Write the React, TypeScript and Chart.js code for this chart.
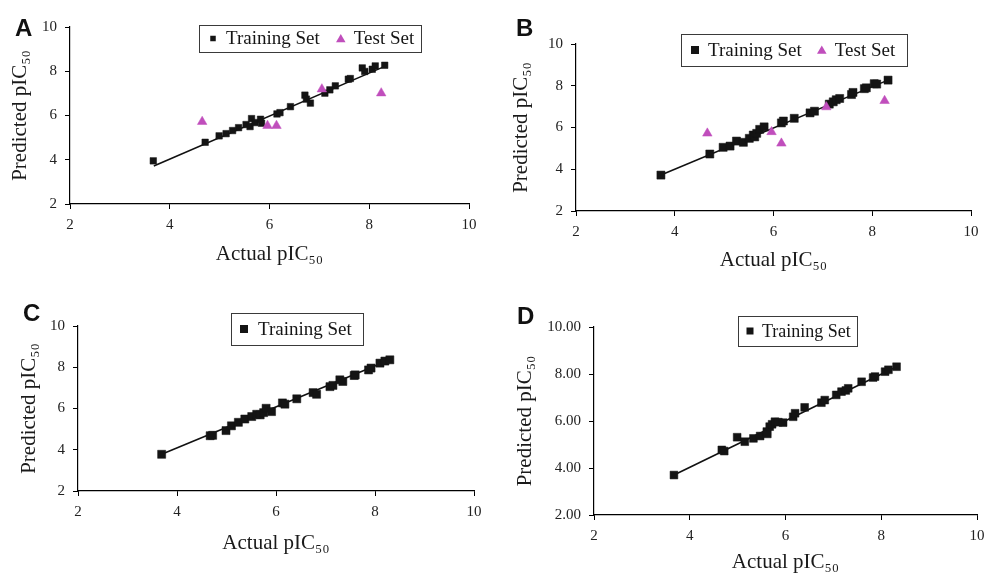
import React, { useEffect, useRef } from "react";
import { Chart, registerables } from "chart.js";

Chart.register(...registerables);

// ---------- DATA ----------
const axisTicks = [2, 4, 6, 8, 10];
const panelLetters = ["A", "B", "C", "D"];
const trainLabel = "Training Set";
const testLabel = "Test Set";
const xTitle = "Actual pIC₅₀";
const yTitle = "Predicted pIC₅₀";

// Panel A
const trainAx = [3.67, 4.71, 4.99, 5.13, 5.26, 5.38, 5.53, 5.61, 5.64, 5.71, 5.82, 5.84, 6.15, 6.21, 6.42, 6.71, 6.74, 6.82, 7.11, 7.21, 7.32, 7.58, 7.62, 7.86, 7.91, 8.06, 8.12, 8.31];
const trainAy = [3.95, 4.79, 5.08, 5.18, 5.32, 5.45, 5.59, 5.5, 5.86, 5.68, 5.83, 5.65, 6.07, 6.13, 6.4, 6.92, 6.74, 6.56, 7.01, 7.16, 7.34, 7.64, 7.67, 8.15, 7.99, 8.09, 8.24, 8.27];
const testAx = [4.65, 5.96, 6.14, 7.05, 8.24];
const testAy = [5.72, 5.54, 5.54, 7.19, 7.01];
const lineAx = [3.68, 8.31];
const lineAy = [3.72, 8.22];

// Panel B
const trainBx = [3.72, 4.71, 4.98, 5.12, 5.25, 5.39, 5.51, 5.59, 5.62, 5.66, 5.72, 5.81, 6.16, 6.2, 6.42, 6.74, 6.83, 7.13, 7.21, 7.27, 7.34, 7.58, 7.61, 7.84, 7.88, 8.04, 8.09, 8.32];
const trainBy = [3.72, 4.73, 5.05, 5.11, 5.35, 5.29, 5.48, 5.64, 5.55, 5.72, 5.91, 6.03, 6.22, 6.31, 6.44, 6.7, 6.78, 7.12, 7.23, 7.33, 7.39, 7.58, 7.68, 7.86, 7.9, 8.1, 8.08, 8.27];
const testBx = [4.66, 5.96, 6.16, 7.07, 8.25];
const testBy = [5.72, 5.79, 5.24, 6.98, 7.28];
const lineBx = [3.72, 8.32];
const lineBy = [3.72, 8.27];

// Panel C
const trainCx = [3.69, 4.67, 4.72, 4.99, 5.1, 5.24, 5.37, 5.51, 5.61, 5.68, 5.75, 5.8, 5.91, 6.13, 6.18, 6.42, 6.75, 6.82, 7.09, 7.15, 7.29, 7.35, 7.58, 7.6, 7.87, 7.92, 8.1, 8.2, 8.3];
const trainCy = [3.78, 4.68, 4.7, 4.93, 5.16, 5.33, 5.49, 5.61, 5.72, 5.69, 5.8, 6.01, 5.85, 6.27, 6.21, 6.47, 6.77, 6.69, 7.06, 7.12, 7.39, 7.31, 7.6, 7.63, 7.87, 7.96, 8.2, 8.3, 8.36];
const lineCx = [3.69, 8.3];
const lineCy = [3.78, 8.36];

// Panel D
const trainDx = [3.67, 4.67, 4.72, 4.99, 5.15, 5.33, 5.47, 5.61, 5.62, 5.67, 5.72, 5.78, 5.85, 5.95, 6.16, 6.2, 6.4, 6.75, 6.82, 7.06, 7.17, 7.26, 7.31, 7.59, 7.83, 7.87, 8.08, 8.15, 8.32];
const trainDy = [3.7, 4.77, 4.72, 5.31, 5.12, 5.26, 5.36, 5.55, 5.45, 5.76, 5.86, 5.97, 5.95, 5.93, 6.18, 6.33, 6.58, 6.78, 6.89, 7.11, 7.25, 7.3, 7.39, 7.67, 7.85, 7.89, 8.1, 8.18, 8.31];
const lineDx = [3.67, 8.32];
const lineDy = [3.7, 8.31];

// ---------- HELPERS ----------
const SERIF = '"Liberation Serif", "Times New Roman", serif';
const TRI_COLOR = "#C04EBC";
const MARK_COLOR = "#141414";

const pts = (xs: number[], ys: number[]) => xs.map((x, i) => ({ x, y: ys[i] }));

type LegendCfg = {
  dx: number; dy: number; w: number; h: number;
  font: number; padL: number; mw: number; textGap: number; itemGap: number;
  sq: number; tri: number;
};

type PanelCfg = {
  letter: string;
  area: { l: number; t: number; r: number; b: number };
  train: { x: number[]; y: number[] };
  test?: { x: number[]; y: number[] };
  line: { x: number[]; y: number[] };
  pointR: number;
  yTitlePad: number;
  xTitlePad: number;
  yDecimals: number;
  legend: LegendCfg;
  letterPos: { left: number; top: number };
};

const WY = 85, HX = 70, PADT = 20, PADR = 20;

const panels: PanelCfg[] = [
  {
    letter: panelLetters[0],
    area: { l: 70, t: 27, r: 469, b: 204 },
    train: { x: trainAx, y: trainAy },
    test: { x: testAx, y: testAy },
    line: { x: lineAx, y: lineAy },
    pointR: 4.6,
    yTitlePad: 23,
    xTitlePad: 7,
    yDecimals: 0,
    legend: { dx: 129, dy: -2, w: 222, h: 27, font: 19, padL: 9, mw: 10, textGap: 8, itemGap: 16, sq: 5.5, tri: 5.5 },
    letterPos: { left: 15, top: 16 },
  },
  {
    letter: panelLetters[1],
    area: { l: 576, t: 44, r: 971, b: 211 },
    train: { x: trainBx, y: trainBy },
    test: { x: testBx, y: testBy },
    line: { x: lineBx, y: lineBy },
    pointR: 5.7,
    yTitlePad: 18,
    xTitlePad: 8,
    yDecimals: 0,
    legend: { dx: 105, dy: -10, w: 226, h: 32, font: 19, padL: 9, mw: 10, textGap: 8, itemGap: 15, sq: 8, tri: 5.5 },
    letterPos: { left: 516, top: 16 },
  },
  {
    letter: panelLetters[2],
    area: { l: 78, t: 326, r: 474, b: 491 },
    train: { x: trainCx, y: trainCy },
    line: { x: lineCx, y: lineCy },
    pointR: 5.7,
    yTitlePad: 24,
    xTitlePad: 5,
    yDecimals: 0,
    legend: { dx: 153, dy: -13, w: 132, h: 32, font: 19, padL: 8, mw: 10, textGap: 9, itemGap: 15, sq: 8, tri: 5.5 },
    letterPos: { left: 23, top: 301 },
  },
  {
    letter: panelLetters[3],
    area: { l: 594, t: 327, r: 977, b: 515 },
    train: { x: trainDx, y: trainDy },
    line: { x: lineDx, y: lineDy },
    pointR: 5.5,
    yTitlePad: 4,
    xTitlePad: 10,
    yDecimals: 2,
    legend: { dx: 144, dy: -11, w: 119, h: 30, font: 18, padL: 7, mw: 10, textGap: 7, itemGap: 15, sq: 7, tri: 5.5 },
    letterPos: { left: 517, top: 304 },
  },
];

function makeLegendPlugin(L: LegendCfg) {
  return {
    id: "boxLegend",
    afterDraw(chart: any) {
      const { ctx, chartArea } = chart;
      const x0 = Math.round(chartArea.left + L.dx);
      const y0 = Math.round(chartArea.top + L.dy);
      ctx.save();
      ctx.fillStyle = "#ffffff";
      ctx.fillRect(x0, y0, L.w, L.h);
      ctx.strokeStyle = "#3a3a3a";
      ctx.lineWidth = 1;
      ctx.strokeRect(x0 + 0.5, y0 + 0.5, L.w, L.h);
      ctx.font = `${L.font}px ${SERIF}`;
      ctx.textBaseline = "middle";
      ctx.textAlign = "left";
      const cy = y0 + L.h / 2 + 1;
      let x = x0 + L.padL;
      chart.data.datasets.forEach((ds: any) => {
        if (!ds.label) return;
        const mx = x + L.mw / 2;
        if (ds.pointStyle === "triangle") {
          const r = L.tri;
          ctx.fillStyle = ds.backgroundColor;
          ctx.beginPath();
          ctx.moveTo(mx, cy - r);
          ctx.lineTo(mx + r * Math.sin((2 * Math.PI) / 3), cy - r * Math.cos((2 * Math.PI) / 3));
          ctx.lineTo(mx - r * Math.sin((2 * Math.PI) / 3), cy - r * Math.cos((2 * Math.PI) / 3));
          ctx.closePath();
          ctx.fill();
        } else {
          ctx.fillStyle = ds.backgroundColor;
          ctx.fillRect(mx - L.sq / 2, cy - L.sq / 2 - 1, L.sq, L.sq);
        }
        const tx = x + L.mw + L.textGap;
        ctx.fillStyle = "#151515";
        ctx.fillText(ds.label, tx, cy);
        x = tx + ctx.measureText(ds.label).width + L.itemGap;
      });
      ctx.restore();
    },
  };
}

function Panel({ cfg }: { cfg: PanelCfg }) {
  const ref = useRef<HTMLCanvasElement>(null);
  const areaW = cfg.area.r - cfg.area.l;
  const areaH = cfg.area.b - cfg.area.t;
  const width = WY + areaW + PADR;
  const height = PADT + areaH + HX;
  const left = cfg.area.l - WY;
  const top = cfg.area.t - PADT;

  useEffect(() => {
    const datasets: any[] = [
      {
        label: "",
        data: pts(cfg.line.x, cfg.line.y),
        showLine: true,
        borderColor: "#111111",
        borderWidth: 1.6,
        pointRadius: 0,
        order: 3,
      },
      {
        label: trainLabel,
        data: pts(cfg.train.x, cfg.train.y),
        pointStyle: "rect",
        backgroundColor: MARK_COLOR,
        borderColor: MARK_COLOR,
        borderWidth: 0.5,
        pointRadius: cfg.pointR,
        order: 2,
      },
    ];
    if (cfg.test) {
      datasets.push({
        label: testLabel,
        data: pts(cfg.test.x, cfg.test.y),
        pointStyle: "triangle",
        backgroundColor: TRI_COLOR,
        borderColor: TRI_COLOR,
        borderWidth: 0.5,
        pointRadius: 5.5,
        order: 1,
      });
    }
    const tickFont = { family: SERIF, size: 15 };
    const titleFont = { family: SERIF, size: 21 };
    const chart = new Chart(ref.current as HTMLCanvasElement, {
      type: "scatter",
      data: { datasets },
      plugins: [makeLegendPlugin(cfg.legend)],
      options: {
        animation: false,
        responsive: false,
        maintainAspectRatio: false,
        events: [],
        layout: { padding: { left: 0, top: PADT, right: PADR, bottom: 0 } },
        plugins: {
          legend: { display: false },
          tooltip: { enabled: false },
        },
        scales: {
          x: {
            type: "linear",
            min: axisTicks[0],
            max: axisTicks[axisTicks.length - 1],
            afterBuildTicks: (s: any) => {
              s.ticks = axisTicks.map((v) => ({ value: v }));
            },
            afterFit: (s: any) => {
              s.height = HX;
            },
            ticks: {
              font: tickFont,
              color: "#222222",
              padding: 7,
              maxRotation: 0,
              callback: (v: any) => String(v),
            },
            grid: {
              drawOnChartArea: false,
              drawTicks: true,
              tickLength: 5,
              color: "#000000",
              lineWidth: 1,
            },
            border: { display: true, color: "#000000", width: 1.2 },
            title: {
              display: true,
              text: xTitle,
              font: titleFont,
              color: "#1a1a1a",
              padding: { top: 0, bottom: cfg.xTitlePad },
            },
          },
          y: {
            type: "linear",
            min: axisTicks[0],
            max: axisTicks[axisTicks.length - 1],
            afterBuildTicks: (s: any) => {
              s.ticks = axisTicks.map((v) => ({ value: v }));
            },
            afterFit: (s: any) => {
              s.width = WY;
            },
            ticks: {
              font: tickFont,
              color: "#222222",
              padding: 8,
              callback: (v: any) => Number(v).toFixed(cfg.yDecimals),
            },
            grid: {
              drawOnChartArea: false,
              drawTicks: true,
              tickLength: 5,
              color: "#000000",
              lineWidth: 1,
            },
            border: { display: true, color: "#000000", width: 1.2 },
            title: {
              display: true,
              text: yTitle,
              font: titleFont,
              color: "#1a1a1a",
              padding: { top: cfg.yTitlePad, bottom: 0 },
            },
          },
        },
      } as any,
    });
    return () => chart.destroy();
  }, []);

  return (
    <>
      <canvas
        ref={ref}
        width={width}
        height={height}
        style={{ position: "absolute", left, top, width, height }}
      />
      <div
        style={{
          position: "absolute",
          left: cfg.letterPos.left,
          top: cfg.letterPos.top,
          font: `bold 24px "Liberation Sans", Arial, sans-serif`,
          lineHeight: "24px",
          color: "#111",
        }}
      >
        {cfg.letter}
      </div>
    </>
  );
}

export default function App() {
  return (
    <div
      style={{
        position: "absolute",
        left: 0,
        top: 0,
        width: 984,
        height: 574,
        overflow: "hidden",
        background: "#ffffff",
      }}
    >
      {panels.map((p) => (
        <Panel key={p.letter} cfg={p} />
      ))}
    </div>
  );
}
